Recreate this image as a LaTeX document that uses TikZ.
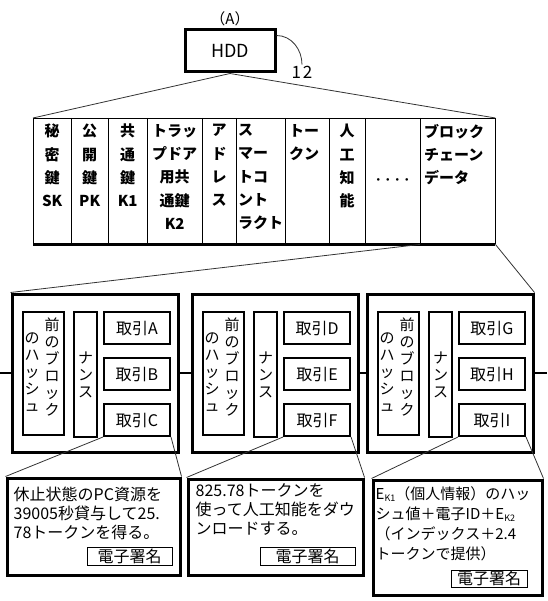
\documentclass[tikz,border=0pt]{standalone}
\usepackage{fontspec}
\setmainfont{Noto Sans CJK JP}
\usetikzlibrary{positioning}
\newcommand{\subk}[1]{\raisebox{-2pt}{\fontsize{9}{9}\selectfont #1}}

\begin{document}
\begin{tikzpicture}[x=1pt,y=-1pt,
  thickbox/.style={draw,line width=3pt,inner sep=0pt},
  innerbox/.style={draw,line width=2pt,inner sep=0pt},
  sigbox/.style={draw,line width=1pt,inner sep=0pt,font=\fontsize{16}{16}\selectfont},
  cell/.style={inner sep=0pt,minimum height=126pt},
  celltext/.style={inner sep=0pt,font=\bfseries\fontsize{15}{23.3}\selectfont},
  vtext/.style={inner sep=0pt,align=center,font=\fontsize{15}{17}\selectfont},
  txtext/.style={font=\fontsize{16}{16}\selectfont},
  notetext/.style={inner sep=0pt,align=left,anchor=north west,font=\fontsize{16}{19}\selectfont},
  thinline/.style={line width=0.8pt,black!80},
  chain/.style={line width=2pt}]
  \useasboundingbox (0,0) rectangle (547,601);

  \node[thickbox,minimum width=90pt,minimum height=42pt,font=\fontsize{18}{18}\selectfont] (hdd) at (230,51) {HDD};
  \node[above=1pt of hdd,inner sep=1pt,font=\fontsize{15}{15}\selectfont] (lblA) {（A）};
  \node[inner sep=1pt,font=\fontsize{17}{17}\selectfont] (lbl12) at (302,72) {1\kern2pt 2};
  \draw[thinline] ([yshift=-7pt]hdd.north east) to[out=0,in=90] (lbl12.north);

  \foreach \l/\r [count=\i] in {33/71,71/108,108/147,147/202,202/236,236/285,285/329,329/365,365/420,420/495}
    \node[cell,minimum width={(\r-\l)*1pt},anchor=north west] (c\i) at (\l,118) {};
  \draw[thin] (c1.north west) -- (c10.north east);
  \draw[line width=1pt] (c1.north west) -- (c1.south west);
  \foreach \i in {1,...,10}
    \draw[line width=1.8pt] (c\i.north east) -- (c\i.south east);
  \draw[line width=3pt] (c1.south west) -- (c10.south east);

  \node[celltext,align=center,anchor=north] at ([yshift=-6pt]c1.north) {秘\\密\\鍵\\SK};
  \node[celltext,align=center,anchor=north] at ([yshift=-6pt]c2.north) {公\\開\\鍵\\PK};
  \node[celltext,align=center,anchor=north] at ([yshift=-6pt]c3.north) {共\\通\\鍵\\K1};
  \node[celltext,align=center,anchor=north] at ([yshift=-6pt]c4.north) {トラッ\\プドア\\用共\\通鍵\\K2};
  \node[celltext,align=center,anchor=north] at ([yshift=-6pt]c5.north) {ア\\ド\\レ\\ス};
  \node[celltext,align=left,anchor=north west] at ([xshift=2pt,yshift=-6pt]c6.north west) {ス\\マー\\トコ\\ント\\ラクト};
  \node[celltext,align=left,anchor=north west] at ([xshift=4pt,yshift=-6pt]c7.north west) {トー\\クン};
  \node[celltext,align=center,anchor=north] at ([yshift=-6pt]c8.north) {人\\工\\知\\能};
  \node[inner sep=0pt,font=\bfseries\fontsize{9.5}{9.5}\selectfont] at (c9.center) {・・・・};
  \node[celltext,align=left,anchor=north west] at ([xshift=4pt,yshift=-6pt]c10.north west) {ブロック\\チェーン\\データ};

  \draw[thinline] (hdd.south) -- (c1.north west);
  \draw[thinline] (hdd.south) -- (c10.north east);

  \foreach \o/\n/\ta/\tb/\tc in {0/1/A/B/C,180/2/D/E/F,355/3/G/H/I} {
    \node[thickbox,minimum width=166pt,minimum height=158pt] (blk\n) at (95+\o,373) {};
    \node[innerbox,minimum width=41pt,minimum height=123pt] (hash\n) at (43.5+\o,373.5) {};
    \node[vtext,anchor=north] at ([xshift=8.5pt,yshift=-7pt]hash\n.north) {前\\の\\ブ\\ロ\\ッ\\ク};
    \node[vtext,anchor=north] at ([xshift=-11.5pt,yshift=-22pt]hash\n.north) {の\\ハ\\ッ\\シ\\ュ};
    \node[innerbox,minimum width=23pt,minimum height=125pt] (nonce\n) at (85.5+\o,374.5) {};
    \node[vtext] at (nonce\n) {ナ\\ン\\ス};
    \node[innerbox,txtext,minimum width=66pt,minimum height=32pt] (tx\ta) at (137+\o,328) {取引\ta};
    \node[innerbox,txtext,minimum width=66pt,minimum height=32pt] (tx\tb) at (137+\o,374) {取引\tb};
    \node[innerbox,txtext,minimum width=66pt,minimum height=32pt] (tx\tc) at (137+\o,420) {取引\tc};
  }

  \coordinate (chainL) at (0,373);
  \coordinate (chainR) at (547,373);
  \draw[chain] (chainL) -- (blk1.west) (blk1.east) -- (blk2.west)
    (blk2.east) -- (blk3.west) (blk3.east) -- (chainR);
  \draw[thinline] (c10.south west) -- (blk1.north west);
  \draw[thinline] (c10.south east) -- (blk3.north east);

  \node[thickbox,minimum width=173pt,minimum height=97pt] (note1) at (93.5,526.5) {};
  \node[notetext] at ([xshift=8pt,yshift=-10pt]note1.north west) {休止状態のPC資源を\\39005秒貸与して25.\\78トークンを得る。};
  \node[sigbox,minimum width=85pt,minimum height=18pt] (sig1) at (129.5,556) {電子署名};

  \node[thickbox,minimum width=175pt,minimum height=96pt] (note2) at (275.5,527) {};
  \node[notetext] at ([xshift=9pt,yshift=-6pt]note2.north west) {825.78トークンを\\使って人工知能をダウ\\ンロードする。};
  \node[sigbox,minimum width=95pt,minimum height=18pt] (sig2) at (307.5,556) {電子署名};

  \node[thickbox,minimum width=169pt,minimum height=115pt] (note3) at (457.5,537.5) {};
  \node[notetext,font=\fontsize{15}{20}\selectfont] at ([xshift=4pt,yshift=-8pt]note3.north west) {E\subk{K1}（個人情報）のハッ\\シュ値＋電子ID＋E\subk{K2}\\（インデックス＋2.4\\トークンで提供）};
  \node[sigbox,minimum width=76pt,minimum height=17pt] (sig3) at (489,578.5) {電子署名};

  \foreach \t/\n in {C/1,F/2,I/3} {
    \draw[thinline] (tx\t.south west) -- (note\n.north west);
    \draw[thinline] (tx\t.south east) -- (note\n.north east);
  }
\end{tikzpicture}
\end{document}
